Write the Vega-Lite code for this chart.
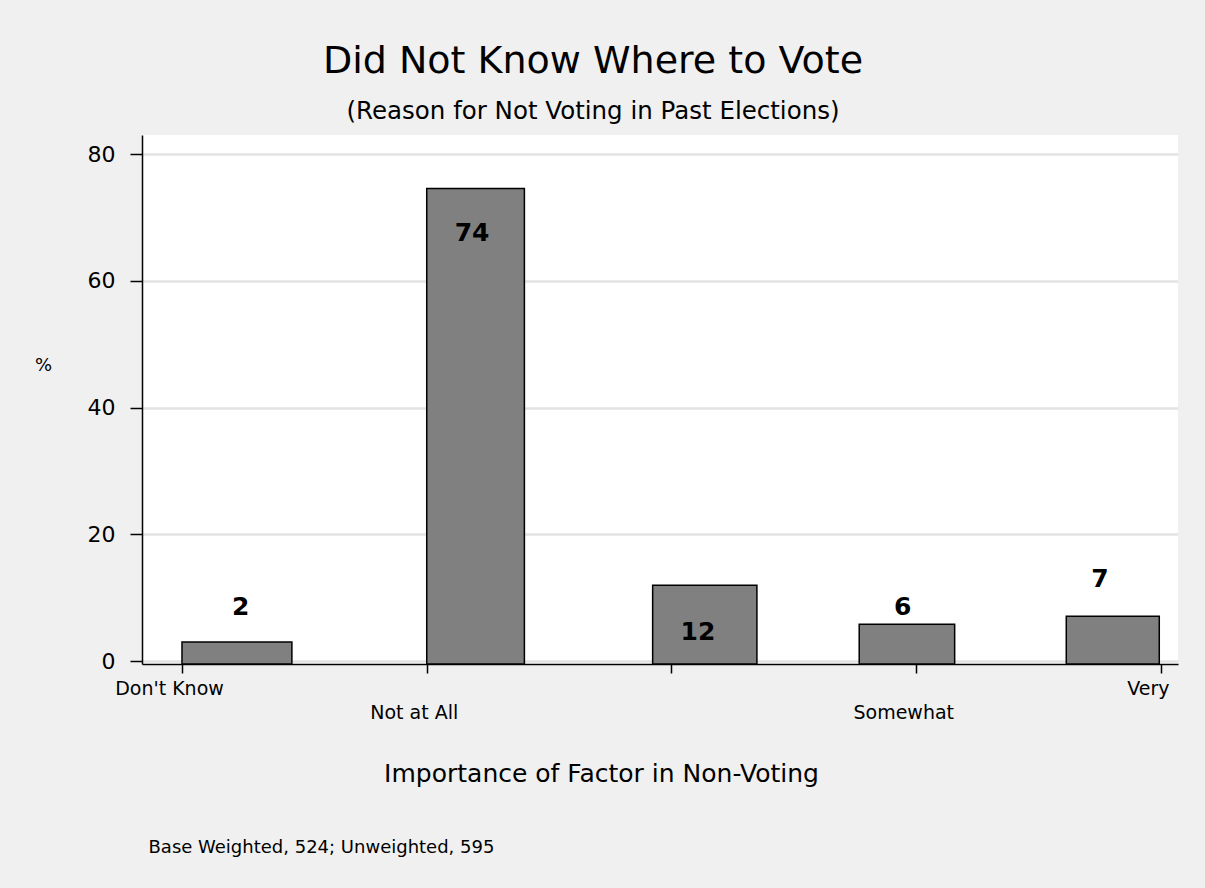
{
  "$schema": "https://vega.github.io/schema/vega-lite/v6.json",
  "width": 1036,
  "height": 529,
  "autosize": {"type": "none"},
  "padding": {"left": 142, "top": 135, "right": 27, "bottom": 224},
  "background": "#f0f0f0",
  "config": {
    "font": "DejaVu Sans",
    "view": {"fill": "white", "stroke": null}
  },
  "title": {
    "text": "Did Not Know Where to Vote",
    "subtitle": "(Reason for Not Voting in Past Elections)",
    "fontSize": 38,
    "fontWeight": "normal",
    "color": "black",
    "subtitleFontSize": 24.5,
    "subtitleColor": "black",
    "subtitlePadding": 19,
    "anchor": "middle",
    "frame": "group",
    "dx": -67,
    "offset": 12
  },
  "data": {
    "values": [
      {"category": "Don't Know", "pct": 3.0, "label": "2", "start": 0.0, "end": 0.449, "label_x": 0.24, "label_y": 8.6},
      {"category": "Not at All", "pct": 74.6, "label": "74", "start": 1.0, "end": 1.399, "label_x": 1.185, "label_y": 67.6},
      {"category": "(middle)", "pct": 11.95, "label": "12", "start": 1.923, "end": 2.349, "label_x": 2.108, "label_y": 4.6},
      {"category": "Somewhat", "pct": 5.8, "label": "6", "start": 2.767, "end": 3.157, "label_x": 2.945, "label_y": 8.6},
      {"category": "Very", "pct": 7.06, "label": "7", "start": 3.613, "end": 3.993, "label_x": 3.751, "label_y": 12.95}
    ]
  },
  "resolve": {"axis": {"x": "independent", "y": "independent"}},
  "layer": [
    {
      "mark": {"type": "bar", "fill": "#808080", "stroke": "black", "strokeWidth": 1.5},
      "encoding": {
        "x": {
          "field": "start",
          "type": "quantitative",
          "scale": {"domain": [-0.1634, 4.0695], "nice": false, "zero": false},
          "axis": {
            "orient": "bottom",
            "values": [0, 1, 2, 3, 4],
            "labelExpr": "datum.value == 0 ? \"Don't Know\" : datum.value == 1 ? 'Not at All' : datum.value == 3 ? 'Somewhat' : datum.value == 4 ? 'Very' : ''",
            "labelFontSize": 19,
            "labelColor": "black",
            "labelOffset": -13,
            "labelPadding": {"condition": {"test": "datum.value == 1 || datum.value == 3", "value": 30}, "value": 6},
            "labelOverlap": false,
            "labelFlush": false,
            "domainColor": "black",
            "domainWidth": 1.5,
            "tickColor": "black",
            "tickSize": 9,
            "tickWidth": 1.5,
            "grid": false,
            "title": "Importance of Factor in Non-Voting",
            "titleFontSize": 25,
            "titleFontWeight": "normal",
            "titleColor": "black",
            "titleX": 459,
            "titleY": 109,
            "titleAlign": "center",
            "titleBaseline": "middle",
            "titleAnchor": null
          }
        },
        "x2": {"field": "end"},
        "y": {
          "field": "pct",
          "type": "quantitative",
          "scale": {"domain": [-0.47, 83.04], "nice": false, "zero": false},
          "axis": {
            "orient": "left",
            "values": [0, 20, 40, 60, 80],
            "labelFontSize": 22,
            "labelColor": "black",
            "labelPadding": 15,
            "domainColor": "black",
            "domainWidth": 1.5,
            "tickColor": "black",
            "tickSize": 12,
            "tickWidth": 1.5,
            "grid": true,
            "gridColor": "#e3e3e3",
            "gridWidth": 2.5,
            "title": "%",
            "titleAngle": 0,
            "titleFontSize": 18,
            "titleFontWeight": "normal",
            "titleColor": "black",
            "titleX": -99,
            "titleY": 230,
            "titleAlign": "center",
            "titleBaseline": "middle",
            "titleAnchor": null
          }
        },
        "y2": {"datum": -0.47}
      }
    },
    {
      "mark": {"type": "text", "fontSize": 25, "fontWeight": "bold", "color": "black", "align": "center", "baseline": "middle"},
      "encoding": {
        "x": {
          "field": "label_x",
          "type": "quantitative",
          "axis": {
            "orient": "bottom",
            "labels": false,
            "ticks": false,
            "domain": false,
            "grid": false,
            "title": "Base Weighted, 524; Unweighted, 595",
            "titleFontSize": 18,
            "titleFontWeight": "normal",
            "titleColor": "black",
            "titleX": 6,
            "titleY": 183,
            "titleAlign": "left",
            "titleBaseline": "middle",
            "titleAnchor": null
          }
        },
        "y": {"field": "label_y", "type": "quantitative", "axis": null},
        "text": {"field": "label"}
      }
    }
  ]
}
